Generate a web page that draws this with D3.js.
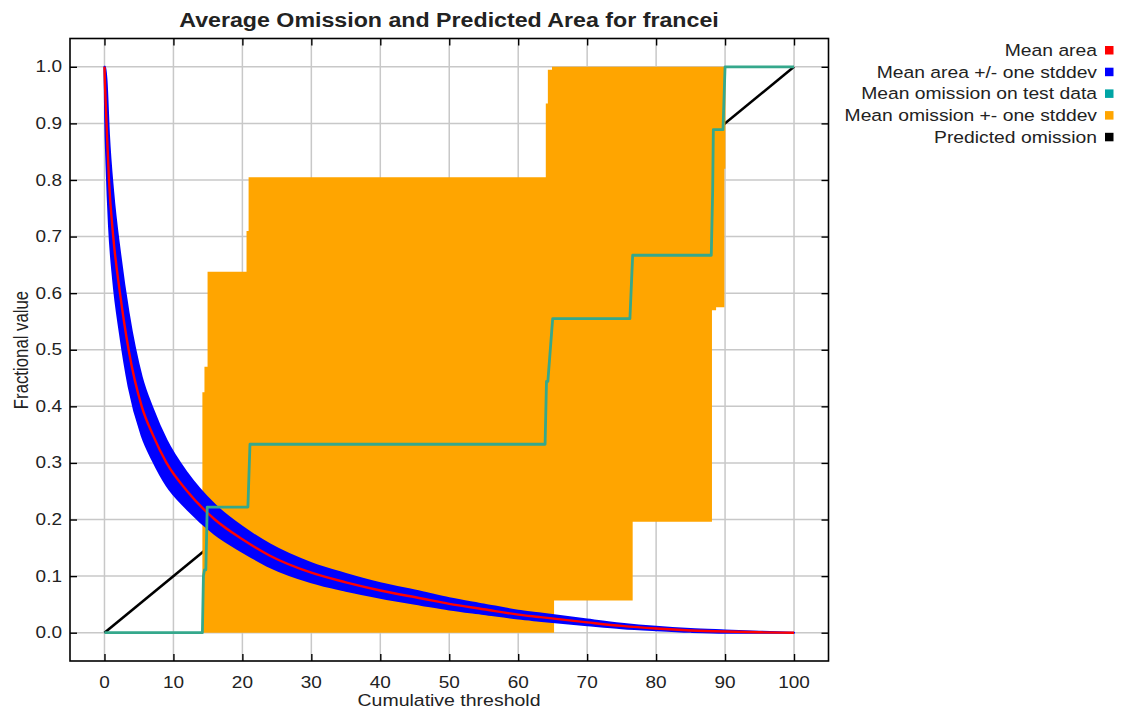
<!DOCTYPE html>
<html>
<head>
<meta charset="utf-8">
<script src="https://cdn.jsdelivr.net/npm/d3@7/dist/d3.min.js"></script>
<style>
  html, body { margin: 0; padding: 0; background: #fff; }
  svg { display: block; }
  text { font-family: "Liberation Sans", Arial, Helvetica, sans-serif; fill: #222; }
</style>
</head>
<body>
<svg id="chart" width="1121" height="708"></svg>
<script>
// Cumulative threshold grid for the mean predicted area curve
const areaThreshold = [0, 0.1, 0.3, 0.65, 1.27, 2.25, 3.5, 5.4, 7, 9, 12, 16, 20, 24, 30, 35, 40, 46, 50, 55, 60, 63, 70, 75, 80, 85, 90, 95, 100];
const meanArea      = [1.0, 0.96, 0.9, 0.8, 0.7, 0.6, 0.5, 0.4, 0.35, 0.3, 0.25, 0.2, 0.165, 0.136, 0.106, 0.089, 0.0746, 0.0605, 0.051, 0.0415, 0.032, 0.0278, 0.0183, 0.012, 0.0074, 0.004, 0.002, 0.0007, 0];
const sdArea        = [0, 0.05, 0.075, 0.08, 0.078, 0.072, 0.065, 0.052, 0.046, 0.04, 0.032, 0.026, 0.022, 0.02, 0.017, 0.015, 0.013, 0.0115, 0.01, 0.0085, 0.007, 0.0065, 0.005, 0.004, 0.003, 0.0025, 0.002, 0.001, 0];

// Mean omission on test data (step-like curve)
const omissionThreshold = [0, 14.2, 14.35, 14.5, 14.7, 14.9, 20.8, 21.1, 63.9, 64.1, 64.3, 65.0, 76.2, 76.6, 88.0, 88.2, 88.3, 89.7, 90.0, 100];
const meanOmission      = [0, 0, 0.1, 0.111, 0.111, 0.222, 0.222, 0.333, 0.333, 0.444, 0.444, 0.555, 0.555, 0.667, 0.667, 0.78, 0.889, 0.889, 1.0, 1.0];

// Mean omission +- one stddev (each value holds until the next threshold)
const omissionBandThreshold = [14.2, 14.5, 14.95, 20.6, 20.9, 64.0, 64.3, 64.9, 65.2, 76.6, 88.1, 88.7, 89.9, 90.05];
const omissionLow           = [0, 0, 0, 0, 0, 0, 0, 0, 0.057, 0.196, 0.57, 0.575, 0.82, 0.82];
const omissionHigh          = [0.425, 0.47, 0.638, 0.71, 0.805, 0.935, 0.995, 1.0, 1.0, 1.0, 1.0, 1.0, 1.0, 1.0];

// Predicted omission
const predictedThreshold = [0, 100];
const predictedOmission  = [0, 1];

const xTickValues = [0, 10, 20, 30, 40, 50, 60, 70, 80, 90, 100];
const yTickValues = [0, 0.1, 0.2, 0.3, 0.4, 0.5, 0.6, 0.7, 0.8, 0.9, 1.0];

const legendLabels = ["Mean area", "Mean area +/- one stddev", "Mean omission on test data", "Mean omission +- one stddev", "Predicted omission"];
const legendColors = ["#ff0000", "#0000ff", "#00a5a5", "#ffa500", "#000000"];

const titleText = "Average Omission and Predicted Area for francei";
const xTitle = "Cumulative threshold";
const yTitle = "Fractional value";

// ---- layout ----
const frame = { left: 70, right: 828.5, top: 38.5, bottom: 661 };
const textSquash = 0.86;   // glyphs are rendered slightly flattened

const svg = d3.select("#chart");
const x = d3.scaleLinear().domain([-5, 105]).range([frame.left, frame.right]);
const y = d3.scaleLinear().domain([-0.05, 1.05]).range([frame.bottom, frame.top]);

svg.append("defs").append("clipPath").attr("id", "plotClip")
  .append("rect")
  .attr("x", frame.left).attr("y", frame.top)
  .attr("width", frame.right - frame.left).attr("height", frame.bottom - frame.top);

// grid
const grid = svg.append("g").attr("stroke", "#c8c8c8").attr("stroke-width", 1.5);
xTickValues.forEach(v => grid.append("line")
  .attr("x1", x(v)).attr("x2", x(v)).attr("y1", frame.top).attr("y2", frame.bottom));
yTickValues.forEach(v => grid.append("line")
  .attr("x1", frame.left).attr("x2", frame.right).attr("y1", y(v)).attr("y2", y(v)));

const plot = svg.append("g").attr("clip-path", "url(#plotClip)");

// predicted omission
const predicted = predictedThreshold.map((t, i) => ({ t, v: predictedOmission[i] }));
plot.append("path")
  .datum(predicted)
  .attr("fill", "none").attr("stroke", "#000").attr("stroke-width", 2.6)
  .attr("d", d3.line().x(d => x(d.t)).y(d => y(d.v)));

// omission band
const band = omissionBandThreshold.map((t, i) => ({ t, lo: omissionLow[i], hi: omissionHigh[i] }));
plot.append("path")
  .datum(band)
  .attr("fill", "#ffa500").attr("stroke", "none")
  .attr("d", d3.area().curve(d3.curveStepAfter)
    .x(d => x(d.t)).y0(d => y(d.lo)).y1(d => y(d.hi)));

// mean area +/- stddev
const area = areaThreshold.map((t, i) => ({ t, m: meanArea[i], sd: sdArea[i] }));
plot.append("path")
  .datum(area)
  .attr("fill", "#0000ff").attr("stroke", "#0000ff").attr("stroke-width", 2)
  .attr("stroke-linejoin", "round")
  .attr("d", d3.area().curve(d3.curveMonotoneX)
    .x(d => x(d.t))
    .y0(d => y(Math.max(0, d.m - d.sd)))
    .y1(d => y(Math.min(1, d.m + d.sd))));

// mean area
plot.append("path")
  .datum(area)
  .attr("fill", "none").attr("stroke", "#ff0000").attr("stroke-width", 2.4)
  .attr("d", d3.line().curve(d3.curveMonotoneX).x(d => x(d.t)).y(d => y(d.m)));

// mean omission on test data
const omission = omissionThreshold.map((t, i) => ({ t, v: meanOmission[i] }));
plot.append("path")
  .datum(omission)
  .attr("fill", "none").attr("stroke", "#35a88c").attr("stroke-width", 2.8)
  .attr("stroke-linejoin", "round")
  .attr("d", d3.line().x(d => x(d.t)).y(d => y(d.v)));

// axes (ticks point inward, mirrored on all sides)
const tickLen = 7;
const axBottom = d3.axisBottom(x).tickValues(xTickValues).tickSizeInner(-tickLen).tickSizeOuter(0).tickFormat("");
const axTop    = d3.axisTop(x).tickValues(xTickValues).tickSizeInner(-tickLen).tickSizeOuter(0).tickFormat("");
const axLeft   = d3.axisLeft(y).tickValues(yTickValues).tickSizeInner(-tickLen).tickSizeOuter(0).tickFormat("");
const axRight  = d3.axisRight(y).tickValues(yTickValues).tickSizeInner(-tickLen).tickSizeOuter(0).tickFormat("");
[[axBottom, `translate(0,${frame.bottom})`], [axTop, `translate(0,${frame.top})`],
 [axLeft, `translate(${frame.left},0)`], [axRight, `translate(${frame.right},0)`]].forEach(([ax, tr]) => {
  const g = svg.append("g").attr("transform", tr).call(ax);
  g.select(".domain").remove();
  g.selectAll(".tick line").attr("stroke", "#000").attr("stroke-width", 1.4);
});

// frame
svg.append("rect")
  .attr("x", frame.left).attr("y", frame.top)
  .attr("width", frame.right - frame.left).attr("height", frame.bottom - frame.top)
  .attr("fill", "none").attr("stroke", "#000").attr("stroke-width", 1.6);

// text helper: flattened glyphs
function label(px, py, str, opts = {}) {
  const g = svg.append("g")
    .attr("transform", `translate(${px},${py}) scale(1,${textSquash})` + (opts.rotate ? ` rotate(${opts.rotate})` : ""));
  return g.append("text")
    .attr("text-anchor", opts.anchor || "middle")
    .attr("dominant-baseline", "central")
    .attr("font-size", opts.size || 19)
    .attr("font-weight", opts.weight || "normal")
    .text(str);
}

// tick labels
xTickValues.forEach(v => label(x(v), 682, d3.format("d")(v), { size: 19 }));
yTickValues.forEach(v => label(62, y(v), d3.format(".1f")(v), { size: 19, anchor: "end" }));

// titles
label(449, 20.5, titleText, { size: 23.2, weight: "bold" });
label(449, 700, xTitle, { size: 19.5 });
label(22, 350, yTitle, { size: 19.5, rotate: -90 });

// legend
legendLabels.forEach((txt, i) => {
  const ly = 50.5 + i * 21.7;
  label(1097, ly, txt, { size: 19.3, anchor: "end" });
  svg.append("rect")
    .attr("x", 1105).attr("y", ly - 4.5).attr("width", 8.5).attr("height", 8.5)
    .attr("fill", legendColors[i]);
});
</script>
</body>
</html>
